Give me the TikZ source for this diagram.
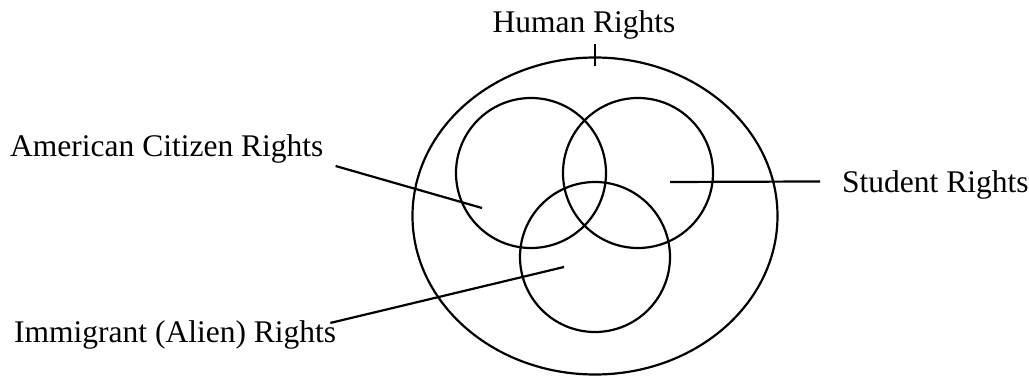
\documentclass[tikz,border=0pt]{standalone}
\usepackage{fontspec}
\setmainfont{Liberation Serif}
\usetikzlibrary{positioning, shapes.geometric}

\begin{document}
\begin{tikzpicture}[
    x=1pt, y=-1pt,
    ring/.style={draw, circle, line width=2.2pt, minimum size=150pt, inner sep=0pt},
    label/.style={inner sep=0pt, font=\fontsize{31.5}{36}\selectfont},
    pointer/.style={line width=2.2pt}
]
    \useasboundingbox (0,0) rectangle (1029,377);

    % outer set and the three subsets
    \node[draw, ellipse, line width=2.2pt, minimum width=365pt, minimum height=317pt, inner sep=0pt] (human) at (595,216) {};
    \node[ring] (citizen) at (531,173) {};
    \node[ring] (student) at (638,173) {};
    \node[ring] (alien)   at (595,257) {};

    % labels
    \node[label, anchor=base]      (humanlbl)   at (584,33)  {Human Rights};
    \node[label, anchor=base west] (citizenlbl) at (10,157)  {American Citizen Rights};
    \node[label, anchor=base west] (studentlbl) at (842,193) {Student Rights};
    \node[label, anchor=base west] (alienlbl)   at (14,342)  {Immigrant (Alien) Rights};

    \coordinate (citizenpt) at (482,208);
    \coordinate (studentpt) at (670,182);
    \coordinate (alienpt)   at (564,267);

    \draw[pointer] ([yshift=12pt]human.north) -- ([yshift=-10pt]human.north);
    \draw[pointer] ([xshift=12pt,yshift=-2pt]citizenlbl.south east) -- (citizenpt);
    \draw[pointer] ([xshift=-22pt,yshift=4pt]studentlbl.west) -- (studentpt);
    \draw[pointer] ([xshift=-6pt,yshift=-3pt]alienlbl.north east) -- (alienpt);
\end{tikzpicture}
\end{document}
